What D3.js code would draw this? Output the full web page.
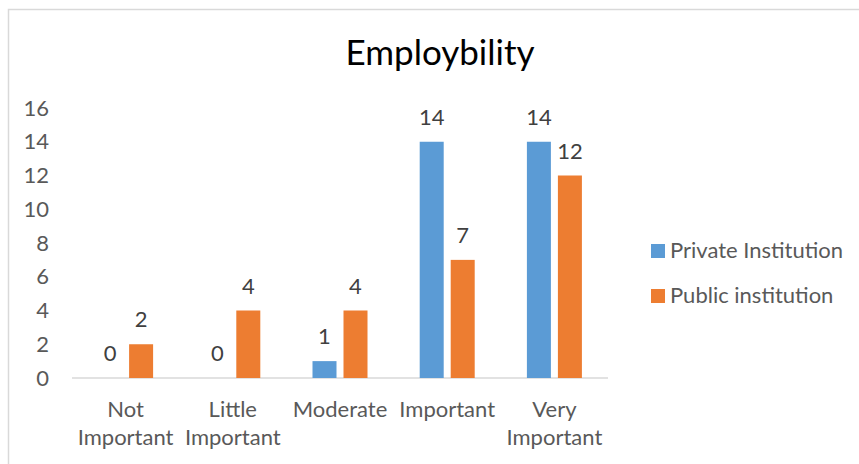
<!DOCTYPE html>
<html>
<head>
<meta charset="utf-8">
<script src="https://cdn.jsdelivr.net/npm/d3@7"></script>
<style>
  body { margin: 0; background: #fff; }
  svg text { font-family: Lato, "Open Sans", sans-serif; }
</style>
</head>
<body>
<div id="chart"></div>
<script>
// data
var categories = [["Not", "Important"], ["Little", "Important"], ["Moderate"], ["Important"], ["Very", "Important"]];
var seriesNames = ["Private Institution", "Public institution"];
var privateValues = [0, 0, 1, 14, 14];
var publicValues = [2, 4, 4, 7, 12];
var yTicks = [0, 2, 4, 6, 8, 10, 12, 14, 16];
var chartTitle = "Employbility";

var attrs = {
    svgWidth: 859,
    svgHeight: 464,
    plotLeft: 72,
    plotRight: 608,
    plotTop: 108,
    plotBottom: 378,
    colors: ["#5B9BD5", "#ED7D31"],
    textFill: "#595959",
    labelFill: "#404040",
    axisColor: "#D9D9D9",
    fontSize: 22
};

var catKeys = categories.map(function (c) { return c.join(" "); });
var rows = catKeys.map(function (k, i) {
    return { key: k, lines: categories[i], values: [privateValues[i], publicValues[i]] };
});

var svg = d3.select("#chart").append("svg")
    .attr("width", attrs.svgWidth)
    .attr("height", attrs.svgHeight);

// chart area border (only top/left visible in the crop)
svg.append("rect")
    .attr("x", 8.5).attr("y", 9.5)
    .attr("width", 900).attr("height", 520)
    .attr("fill", "none")
    .attr("stroke", "#D9D9D9")
    .attr("stroke-width", 1.5);

// scales
var x0 = d3.scaleBand().domain(catKeys).range([attrs.plotLeft, attrs.plotRight]).padding(0);
var groupW = 55;
var x1 = d3.scaleBand().domain(seriesNames)
    .range([(x0.bandwidth() - groupW) / 2, (x0.bandwidth() + groupW) / 2])
    .paddingInner(7 / 31).paddingOuter(0);
var y = d3.scaleLinear().domain([0, 16]).range([attrs.plotBottom, attrs.plotTop]);

// title
svg.append("text")
    .attr("x", 440).attr("y", 65)
    .attr("text-anchor", "middle")
    .attr("fill", "#000")
    .attr("font-size", 35)
    .text(chartTitle);

// y axis labels
var yAxis = d3.axisLeft(y).tickValues(yTicks).tickSize(0).tickPadding(0);
var yG = svg.append("g")
    .attr("transform", "translate(49,0)")
    .call(yAxis);
yG.select(".domain").remove();
yG.selectAll("text")
    .attr("fill", attrs.textFill)
    .attr("font-size", attrs.fontSize)
    .style("font-family", "Lato, 'Open Sans', sans-serif");

// baseline
svg.append("line")
    .attr("x1", attrs.plotLeft).attr("x2", attrs.plotRight)
    .attr("y1", y(0)).attr("y2", y(0))
    .attr("stroke", attrs.axisColor)
    .attr("stroke-width", 1.5);

// bars
var groups = svg.append("g").selectAll("g.cat")
    .data(rows).enter().append("g")
    .attr("class", "cat")
    .attr("transform", function (d) { return "translate(" + x0(d.key) + ",0)"; });

var cells = groups.selectAll("g.cell")
    .data(function (d) { return d.values.map(function (v, i) { return { name: seriesNames[i], value: v, idx: i }; }); })
    .enter().append("g").attr("class", "cell");

cells.append("rect")
    .attr("x", function (d) { return x1(d.name); })
    .attr("width", x1.bandwidth())
    .attr("y", function (d) { return y(d.value); })
    .attr("height", function (d) { return y(0) - y(d.value); })
    .attr("fill", function (d) { return attrs.colors[d.idx]; });

cells.append("text")
    .attr("x", function (d) { return x1(d.name) + x1.bandwidth() / 2; })
    .attr("y", function (d) { return y(d.value) - 17; })
    .attr("text-anchor", "middle")
    .attr("fill", attrs.labelFill)
    .attr("font-size", attrs.fontSize)
    .text(function (d) { return d.value; });

// x category labels
var xl = svg.append("g").selectAll("text")
    .data(rows).enter().append("text")
    .attr("x", function (d) { return x0(d.key) + x0.bandwidth() / 2; })
    .attr("y", 417)
    .attr("text-anchor", "middle")
    .attr("fill", attrs.textFill)
    .attr("font-size", attrs.fontSize);
xl.selectAll("tspan")
    .data(function (d) { return d.lines; })
    .enter().append("tspan")
    .attr("x", function () { return d3.select(this.parentNode).attr("x"); })
    .attr("dy", function (d, i) { return i === 0 ? 0 : 28; })
    .text(function (d) { return d; });

// legend
var legend = svg.append("g").selectAll("g")
    .data(seriesNames).enter().append("g")
    .attr("transform", function (d, i) { return "translate(651," + (244 + i * 45) + ")"; });
legend.append("rect")
    .attr("width", 14).attr("height", 14)
    .attr("fill", function (d, i) { return attrs.colors[i]; });
legend.append("text")
    .attr("x", 19).attr("y", 14)
    .attr("fill", attrs.textFill)
    .attr("font-size", attrs.fontSize)
    .text(function (d) { return d; });
</script>
</body>
</html>
